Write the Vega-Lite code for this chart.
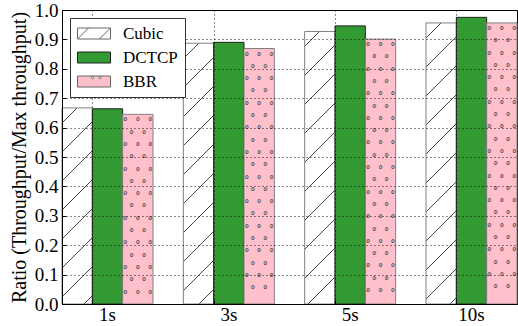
{
  "$schema": "https://vega.github.io/schema/vega-lite/v6.json",
  "width": 455,
  "height": 294,
  "autosize": {"type": "none"},
  "padding": {"left": 62, "top": 10, "right": 1, "bottom": 22},
  "background": "white",
  "config": {"view": {"stroke": "black", "strokeWidth": 1}, "font": "Liberation Serif"},
  "data": {
    "values": [
      {"time": "1s", "cc": "Cubic", "value": 0.667},
      {"time": "1s", "cc": "DCTCP", "value": 0.664},
      {"time": "1s", "cc": "BBR", "value": 0.645},
      {"time": "3s", "cc": "Cubic", "value": 0.887},
      {"time": "3s", "cc": "DCTCP", "value": 0.890},
      {"time": "3s", "cc": "BBR", "value": 0.869},
      {"time": "5s", "cc": "Cubic", "value": 0.927},
      {"time": "5s", "cc": "DCTCP", "value": 0.946},
      {"time": "5s", "cc": "BBR", "value": 0.901},
      {"time": "10s", "cc": "Cubic", "value": 0.956},
      {"time": "10s", "cc": "DCTCP", "value": 0.975},
      {"time": "10s", "cc": "BBR", "value": 0.956}
    ]
  },
  "encoding": {
    "x": {
      "field": "time", "type": "nominal", "sort": ["1s", "3s", "5s", "10s"],
      "scale": {"paddingInner": 0.25, "paddingOuter": 0},
      "axis": {
        "title": null, "bandPosition": 0.34, "labelAngle": 0,
        "labelFont": "Liberation Serif", "labelFontSize": 19, "labelColor": "black",
        "domainColor": "black", "tickColor": "black", "tickSize": -4, "labelPadding": 5,
        "grid": true, "gridColor": "black", "gridDash": [1, 3], "gridOpacity": 0.9, "zindex": 1
      }
    },
    "xOffset": {
      "field": "cc", "type": "nominal", "sort": ["Cubic", "DCTCP", "BBR"],
      "scale": {"paddingInner": 0, "paddingOuter": 0}
    },
    "y": {
      "field": "value", "type": "quantitative",
      "scale": {"domain": [0, 1], "nice": false},
      "axis": {
        "title": "Ratio (Throughput/Max throughput)",
        "values": [0, 0.1, 0.2, 0.3, 0.4, 0.5, 0.6, 0.7, 0.8, 0.9, 1.0],
        "format": ".1f", "labelFlush": false, "labelBound": false,
        "labelFont": "Liberation Serif", "labelFontSize": 19, "labelColor": "black",
        "titleFont": "Liberation Serif", "titleFontSize": 20, "titleFontWeight": "normal", "titleColor": "black",
        "titlePadding": 5,
        "domainColor": "black", "tickColor": "black", "tickSize": -4, "labelPadding": 8,
        "gridColor": "black", "gridDash": [1, 3], "gridOpacity": 0.9, "zindex": 1
      }
    }
  },
  "layer": [
    {
      "mark": {"type": "bar", "strokeWidth": 1},
      "encoding": {
        "fill": {
          "condition": [
            {"test": "datum.cc==='Cubic' && datum.time==='1s'", "value": {"gradient": "linear", "x1": 0, "y1": 0, "x2": 0.2463, "y2": 1.5937, "stops": [
              {"offset": 0, "color": "white"},
              {"offset": 0.0453, "color": "white"}, {"offset": 0.0453, "color": "#444"}, {"offset": 0.0485, "color": "#444"}, {"offset": 0.0485, "color": "white"},
              {"offset": 0.1359, "color": "white"}, {"offset": 0.1359, "color": "#444"}, {"offset": 0.1391, "color": "#444"}, {"offset": 0.1391, "color": "white"},
              {"offset": 0.2265, "color": "white"}, {"offset": 0.2265, "color": "#444"}, {"offset": 0.2297, "color": "#444"}, {"offset": 0.2297, "color": "white"},
              {"offset": 0.3172, "color": "white"}, {"offset": 0.3172, "color": "#444"}, {"offset": 0.3204, "color": "#444"}, {"offset": 0.3204, "color": "white"},
              {"offset": 0.4078, "color": "white"}, {"offset": 0.4078, "color": "#444"}, {"offset": 0.4110, "color": "#444"}, {"offset": 0.4110, "color": "white"},
              {"offset": 0.4984, "color": "white"}, {"offset": 0.4984, "color": "#444"}, {"offset": 0.5016, "color": "#444"}, {"offset": 0.5016, "color": "white"},
              {"offset": 0.5890, "color": "white"}, {"offset": 0.5890, "color": "#444"}, {"offset": 0.5922, "color": "#444"}, {"offset": 0.5922, "color": "white"},
              {"offset": 0.6797, "color": "white"}, {"offset": 0.6797, "color": "#444"}, {"offset": 0.6829, "color": "#444"}, {"offset": 0.6829, "color": "white"},
              {"offset": 0.7703, "color": "white"}, {"offset": 0.7703, "color": "#444"}, {"offset": 0.7735, "color": "#444"}, {"offset": 0.7735, "color": "white"},
              {"offset": 0.8609, "color": "white"}, {"offset": 0.8609, "color": "#444"}, {"offset": 0.8641, "color": "#444"}, {"offset": 0.8641, "color": "white"},
              {"offset": 0.9515, "color": "white"}, {"offset": 0.9515, "color": "#444"}, {"offset": 0.9547, "color": "#444"}, {"offset": 0.9547, "color": "white"},
              {"offset": 1, "color": "white"}]}},
            {"test": "datum.cc==='Cubic' && datum.time==='3s'", "value": {"gradient": "linear", "x1": 0, "y1": 0, "x2": 0.1407, "y2": 1.2106, "stops": [
              {"offset": 0, "color": "white"},
              {"offset": 0.0453, "color": "white"}, {"offset": 0.0453, "color": "#444"}, {"offset": 0.0485, "color": "#444"}, {"offset": 0.0485, "color": "white"},
              {"offset": 0.1359, "color": "white"}, {"offset": 0.1359, "color": "#444"}, {"offset": 0.1391, "color": "#444"}, {"offset": 0.1391, "color": "white"},
              {"offset": 0.2265, "color": "white"}, {"offset": 0.2265, "color": "#444"}, {"offset": 0.2297, "color": "#444"}, {"offset": 0.2297, "color": "white"},
              {"offset": 0.3172, "color": "white"}, {"offset": 0.3172, "color": "#444"}, {"offset": 0.3204, "color": "#444"}, {"offset": 0.3204, "color": "white"},
              {"offset": 0.4078, "color": "white"}, {"offset": 0.4078, "color": "#444"}, {"offset": 0.4110, "color": "#444"}, {"offset": 0.4110, "color": "white"},
              {"offset": 0.4984, "color": "white"}, {"offset": 0.4984, "color": "#444"}, {"offset": 0.5016, "color": "#444"}, {"offset": 0.5016, "color": "white"},
              {"offset": 0.5890, "color": "white"}, {"offset": 0.5890, "color": "#444"}, {"offset": 0.5922, "color": "#444"}, {"offset": 0.5922, "color": "white"},
              {"offset": 0.6797, "color": "white"}, {"offset": 0.6797, "color": "#444"}, {"offset": 0.6829, "color": "#444"}, {"offset": 0.6829, "color": "white"},
              {"offset": 0.7703, "color": "white"}, {"offset": 0.7703, "color": "#444"}, {"offset": 0.7735, "color": "#444"}, {"offset": 0.7735, "color": "white"},
              {"offset": 0.8609, "color": "white"}, {"offset": 0.8609, "color": "#444"}, {"offset": 0.8641, "color": "#444"}, {"offset": 0.8641, "color": "white"},
              {"offset": 0.9515, "color": "white"}, {"offset": 0.9515, "color": "#444"}, {"offset": 0.9547, "color": "#444"}, {"offset": 0.9547, "color": "white"},
              {"offset": 1, "color": "white"}]}},
            {"test": "datum.cc==='Cubic' && datum.time==='5s'", "value": {"gradient": "linear", "x1": 0, "y1": 0, "x2": 0.1290, "y2": 1.1600, "stops": [
              {"offset": 0, "color": "white"},
              {"offset": 0.0453, "color": "white"}, {"offset": 0.0453, "color": "#444"}, {"offset": 0.0485, "color": "#444"}, {"offset": 0.0485, "color": "white"},
              {"offset": 0.1359, "color": "white"}, {"offset": 0.1359, "color": "#444"}, {"offset": 0.1391, "color": "#444"}, {"offset": 0.1391, "color": "white"},
              {"offset": 0.2265, "color": "white"}, {"offset": 0.2265, "color": "#444"}, {"offset": 0.2297, "color": "#444"}, {"offset": 0.2297, "color": "white"},
              {"offset": 0.3172, "color": "white"}, {"offset": 0.3172, "color": "#444"}, {"offset": 0.3204, "color": "#444"}, {"offset": 0.3204, "color": "white"},
              {"offset": 0.4078, "color": "white"}, {"offset": 0.4078, "color": "#444"}, {"offset": 0.4110, "color": "#444"}, {"offset": 0.4110, "color": "white"},
              {"offset": 0.4984, "color": "white"}, {"offset": 0.4984, "color": "#444"}, {"offset": 0.5016, "color": "#444"}, {"offset": 0.5016, "color": "white"},
              {"offset": 0.5890, "color": "white"}, {"offset": 0.5890, "color": "#444"}, {"offset": 0.5922, "color": "#444"}, {"offset": 0.5922, "color": "white"},
              {"offset": 0.6797, "color": "white"}, {"offset": 0.6797, "color": "#444"}, {"offset": 0.6829, "color": "#444"}, {"offset": 0.6829, "color": "white"},
              {"offset": 0.7703, "color": "white"}, {"offset": 0.7703, "color": "#444"}, {"offset": 0.7735, "color": "#444"}, {"offset": 0.7735, "color": "white"},
              {"offset": 0.8609, "color": "white"}, {"offset": 0.8609, "color": "#444"}, {"offset": 0.8641, "color": "#444"}, {"offset": 0.8641, "color": "white"},
              {"offset": 0.9515, "color": "white"}, {"offset": 0.9515, "color": "#444"}, {"offset": 0.9547, "color": "#444"}, {"offset": 0.9547, "color": "white"},
              {"offset": 1, "color": "white"}]}},
            {"test": "datum.cc==='Cubic' && datum.time==='10s'", "value": {"gradient": "linear", "x1": 0, "y1": 0, "x2": 0.1213, "y2": 1.1253, "stops": [
              {"offset": 0, "color": "white"},
              {"offset": 0.0453, "color": "white"}, {"offset": 0.0453, "color": "#444"}, {"offset": 0.0485, "color": "#444"}, {"offset": 0.0485, "color": "white"},
              {"offset": 0.1359, "color": "white"}, {"offset": 0.1359, "color": "#444"}, {"offset": 0.1391, "color": "#444"}, {"offset": 0.1391, "color": "white"},
              {"offset": 0.2265, "color": "white"}, {"offset": 0.2265, "color": "#444"}, {"offset": 0.2297, "color": "#444"}, {"offset": 0.2297, "color": "white"},
              {"offset": 0.3172, "color": "white"}, {"offset": 0.3172, "color": "#444"}, {"offset": 0.3204, "color": "#444"}, {"offset": 0.3204, "color": "white"},
              {"offset": 0.4078, "color": "white"}, {"offset": 0.4078, "color": "#444"}, {"offset": 0.4110, "color": "#444"}, {"offset": 0.4110, "color": "white"},
              {"offset": 0.4984, "color": "white"}, {"offset": 0.4984, "color": "#444"}, {"offset": 0.5016, "color": "#444"}, {"offset": 0.5016, "color": "white"},
              {"offset": 0.5890, "color": "white"}, {"offset": 0.5890, "color": "#444"}, {"offset": 0.5922, "color": "#444"}, {"offset": 0.5922, "color": "white"},
              {"offset": 0.6797, "color": "white"}, {"offset": 0.6797, "color": "#444"}, {"offset": 0.6829, "color": "#444"}, {"offset": 0.6829, "color": "white"},
              {"offset": 0.7703, "color": "white"}, {"offset": 0.7703, "color": "#444"}, {"offset": 0.7735, "color": "#444"}, {"offset": 0.7735, "color": "white"},
              {"offset": 0.8609, "color": "white"}, {"offset": 0.8609, "color": "#444"}, {"offset": 0.8641, "color": "#444"}, {"offset": 0.8641, "color": "white"},
              {"offset": 0.9515, "color": "white"}, {"offset": 0.9515, "color": "#444"}, {"offset": 0.9547, "color": "#444"}, {"offset": 0.9547, "color": "white"},
              {"offset": 1, "color": "white"}]}}
          ],
          "field": "cc", "type": "nominal",
          "scale": {"domain": ["Cubic", "DCTCP", "BBR"], "range": ["white", "#339933", "#ffc0cb"]},
          "legend": {
            "title": null, "orient": "top-left", "offset": 8, "padding": 7,
            "fillColor": "white", "strokeColor": "#333", "cornerRadius": 0,
            "labelFont": "Liberation Serif", "labelFontSize": 17, "labelColor": "black",
            "symbolType": "M-1,-0.6875H3.125V0.6875H-1Z", "symbolSize": 256,
            "symbolStrokeWidth": 1, "symbolOpacity": 1,
            "labelOffset": 29, "rowPadding": 6, "zindex": 2,
            "encoding": {
              "symbols": {
                "shape": {
                  "condition": [
                    {"test": "datum.value === 'Cubic'", "value": "M-1,-0.6875H3.125V0.6875H-1Z M-1,0.6875L0.375,-0.6875 M1.75,0.6875L3.125,-0.6875"},
                    {"test": "datum.value === 'BBR'", "value": "M-1,-0.6875H3.125V0.6875H-1Z M0.73,-0.5A0.15,0.15 0 1,0 1.03,-0.5A0.15,0.15 0 1,0 0.73,-0.5Z M1.69,-0.5A0.15,0.15 0 1,0 1.99,-0.5A0.15,0.15 0 1,0 1.69,-0.5Z"}
                  ],
                  "value": "M-1,-0.6875H3.125V0.6875H-1Z"
                },
                "fill": {
                  "condition": [
                    {"test": "datum.value === 'Cubic'", "value": "white"},
                    {"test": "datum.value === 'DCTCP'", "value": "#339933"}
                  ],
                  "value": "#ffc0cb"
                },
                "stroke": {"condition": {"test": "datum.value === 'DCTCP'", "value": "#222"}, "value": "#666"}
              }
            }
          }
        },
        "stroke": {"condition": {"test": "datum.cc==='DCTCP'", "value": "#222"}, "value": "#808080"}
      }
    },
    {
      "transform": [{"filter": "datum.cc==='BBR'"}],
      "mark": {"type": "text", "baseline": "top", "align": "center",
               "font": "DejaVu Sans Mono", "fontSize": 10.3, "fontWeight": "bold", "lineHeight": 12.3, "color": "#555", "dy": 3},
      "encoding": {
        "text": {
          "condition": [
            {"test": "datum.time==='1s'", "value": ["° ° °", "° °", "° ° °", "° °", "° ° °", "° °", "° ° °", "° °", "° ° °", "° °", "° ° °", "° °", "° ° °", "° °", "° ° °"]},
            {"test": "datum.time==='3s'", "value": ["° ° °", "° °", "° ° °", "° °", "° ° °", "° °", "° ° °", "° °", "° ° °", "° °", "° ° °", "° °", "° ° °", "° °", "° ° °", "° °", "° ° °", "° °", "° ° °", "° °"]},
            {"test": "datum.time==='5s'", "value": ["° ° °", "° °", "° ° °", "° °", "° ° °", "° °", "° ° °", "° °", "° ° °", "° °", "° ° °", "° °", "° ° °", "° °", "° ° °", "° °", "° ° °", "° °", "° ° °", "° °", "° ° °"]}
          ],
          "value": ["° ° °", "° °", "° ° °", "° °", "° ° °", "° °", "° ° °", "° °", "° ° °", "° °", "° ° °", "° °", "° ° °", "° °", "° ° °", "° °", "° ° °", "° °", "° ° °", "° °", "° ° °", "° °"]
        }
      }
    }
  ]
}
